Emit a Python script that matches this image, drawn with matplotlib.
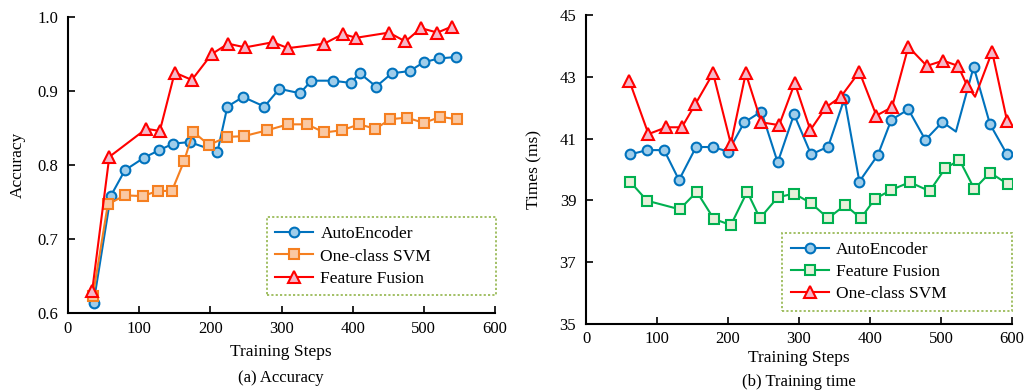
import matplotlib
matplotlib.use("Agg")
import matplotlib.pyplot as plt

plt.rcParams['font.family'] = ['Liberation Serif', 'DejaVu Serif']
plt.rcParams['mathtext.fontset'] = 'stix'

# ---------------- (a) Accuracy ----------------
ae_steps = [36, 60, 80, 107, 128, 148, 171, 210, 224, 246, 276, 297, 326, 342, 372, 397, 410, 433, 455, 480, 500, 521, 545]
ae_acc = [0.614, 0.758, 0.793, 0.810, 0.820, 0.829, 0.831, 0.818, 0.879, 0.892, 0.879, 0.903, 0.897, 0.914, 0.914,
          0.911, 0.924, 0.906, 0.924, 0.927, 0.939, 0.944, 0.946]

svm_steps = [35, 56, 80, 105, 126, 146, 163, 176, 198, 223, 247, 280, 309, 336, 360, 385, 409, 432, 453, 476, 500, 523, 547]
svm_acc = [0.623, 0.747, 0.759, 0.758, 0.765, 0.765, 0.805, 0.845, 0.827, 0.838, 0.839, 0.847, 0.855, 0.855, 0.844,
           0.847, 0.855, 0.849, 0.862, 0.864, 0.857, 0.865, 0.862]

ff_steps = [34, 58, 110, 129, 150, 174, 202, 225, 249, 288, 309, 360, 386, 405, 451, 474, 496, 519, 539]
ff_acc = [0.630, 0.811, 0.849, 0.846, 0.925, 0.915, 0.950, 0.964, 0.959, 0.966, 0.958, 0.964, 0.977, 0.972, 0.979,
          0.967, 0.985, 0.979, 0.987]

# ---------------- (b) Training time ----------------
ae_t_steps = [62, 86, 110, 131, 155, 179, 200, 223, 247, 270, 293, 317, 341, 364, 385, 411, 430, 454, 478, 502, 521, 546, 569, 593]
ae_time = [40.49, 40.63, 40.63, 39.66, 40.73, 40.73, 40.58, 41.53, 41.88, 40.23, 41.79, 40.49, 40.74, 42.30, 39.61,
           40.47, 41.61, 41.95, 40.96, 41.54, 41.23, 43.33, 41.47, 40.49]
ae_t_marked = [i for i in range(len(ae_t_steps)) if i != 20]

ff_t_steps = [62, 86, 132, 156, 180, 204, 227, 245, 270, 293, 317, 341, 365, 387, 407, 430, 456, 484, 506, 526, 547, 569, 594]
ff_time = [39.61, 38.99, 38.71, 39.28, 38.40, 38.20, 39.28, 38.42, 39.10, 39.22, 38.91, 38.42, 38.85, 38.42, 39.05,
           39.34, 39.59, 39.30, 40.04, 40.31, 39.37, 39.90, 39.53]

svm_t_steps = [61, 88, 113, 135, 154, 179, 204, 225, 247, 272, 294, 316, 338, 359, 385, 409, 431, 454, 480, 503, 524,
               537, 548, 572, 593]
svm_time = [42.88, 41.15, 41.37, 41.37, 42.12, 43.12, 40.83, 43.12, 41.53, 41.44, 42.80, 41.28, 42.02, 42.36, 43.17,
            41.75, 42.02, 43.98, 43.36, 43.53, 43.36, 42.71, 42.36, 43.82, 41.58]
svm_t_marked = [i for i in range(len(svm_t_steps)) if i != 22]

BLUE, BLUE_F = '#0072BD', '#9FCDEA'
ORANGE, ORANGE_F = '#F57F20', '#FAC8A2'
RED, RED_F = '#FF0000', '#F5B8C9'
GREEN, GREEN_F = '#00B050', '#E7F0DA'

fig = plt.figure(figsize=(10.27, 3.92), dpi=100)
ax1 = fig.add_axes([0.0662, 0.2015, 0.4158, 0.755])
ax2 = fig.add_axes([0.5706, 0.174, 0.4148, 0.787])

lw = 1.5
ax1.plot(ae_steps, ae_acc, '-o', color=BLUE, mfc=BLUE_F, mec=BLUE, ms=7, mew=1.5, lw=lw, label='AutoEncoder')
ax1.plot(svm_steps, svm_acc, '-s', color=ORANGE, mfc=ORANGE_F, mec=ORANGE, ms=6.5, mew=1.5, lw=lw, label='One-class SVM')
ax1.plot(ff_steps, ff_acc, '-^', color=RED, mfc=RED_F, mec=RED, ms=9, mew=1.5, lw=lw, label='Feature Fusion')

ax2.plot(ae_t_steps, ae_time, '-o', color=BLUE, mfc=BLUE_F, mec=BLUE, ms=7, mew=1.5, lw=lw,
         markevery=ae_t_marked, label='AutoEncoder')
ax2.plot(ff_t_steps, ff_time, '-s', color=GREEN, mfc=GREEN_F, mec=GREEN, ms=6.5, mew=1.5, lw=lw, label='Feature Fusion')
ax2.plot(svm_t_steps, svm_time, '-^', color=RED, mfc=RED_F, mec=RED, ms=9, mew=1.5, lw=lw,
         markevery=svm_t_marked, label='One-class SVM')

ax1.set_xlim(0, 600)
ax1.set_ylim(0.6, 1.0)
ax1.set_xticks([0, 100, 200, 300, 400, 500, 600])
ax1.set_yticks([0.6, 0.7, 0.8, 0.9, 1.0])
ax1.set_yticklabels(['0.6', '0.7', '0.8', '0.9', '1.0'])
ax1.set_ylabel('Accuracy', fontsize=12.5, labelpad=8)

ax2.set_xlim(0, 600)
ax2.set_ylim(35, 45)
ax2.set_xticks([0, 100, 200, 300, 400, 500, 600])
ax2.set_yticks([35, 37, 39, 41, 43, 45])
ax2.set_ylabel('Times (ms)', fontsize=12.5, labelpad=12)

for ax in (ax1, ax2):
    for s in ('top', 'right'):
        ax.spines[s].set_visible(False)
    for s in ('left', 'bottom'):
        ax.spines[s].set_linewidth(1.5)
    ax.tick_params(direction='in', length=5, width=1.2, labelsize=12)
    ax.tick_params(axis='x', pad=5.5)
    ax.tick_params(axis='y', pad=7)

leg_kw = dict(fontsize=12.5, frameon=True, fancybox=False, handlelength=2.2, borderpad=0.5,
              labelspacing=0.35, handletextpad=0.4, borderaxespad=0)
leg1 = ax1.legend(loc='center left', bbox_to_anchor=(0.465, 0.064, 0.537, 0.254), mode='expand', **leg_kw)
leg2 = ax2.legend(loc='center left', bbox_to_anchor=(0.46, 0.048, 0.54, 0.24), mode='expand', **leg_kw)
for lg in (leg1, leg2):
    fr = lg.get_frame()
    fr.set_edgecolor('#9BBB59')
    fr.set_linestyle((0, (1.2, 1.2)))
    fr.set_linewidth(1.3)
    fr.set_facecolor('white')
    fr.set_alpha(1)

fig.text(281 / 1027, 1 - 352 / 392, 'Training Steps', ha='center', va='center', fontsize=12.5)
fig.text(281 / 1027, 1 - 378 / 392, '(a) Accuracy', ha='center', va='center', fontsize=12)
fig.text(799 / 1027, 1 - 358 / 392, 'Training Steps', ha='center', va='center', fontsize=12.5)
fig.text(799 / 1027, 1 - 381.5 / 392, '(b) Training time', ha='center', va='center', fontsize=12)

fig.savefig('out.png', dpi=100)
